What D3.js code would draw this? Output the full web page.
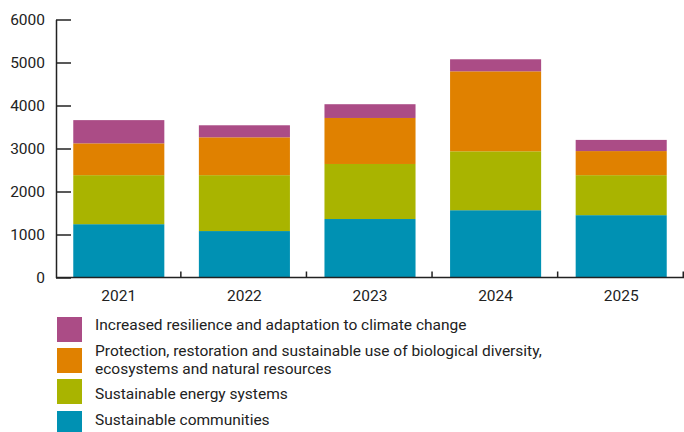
<!DOCTYPE html>
<html>
<head>
<meta charset="utf-8">
<script src="https://cdn.jsdelivr.net/npm/d3@7"></script>
<style>
  body { margin: 0; background: #fff; }
  svg text { font-family: Roboto, "Noto Sans", sans-serif; fill: #222; }
</style>
</head>
<body>
<div id="chart"></div>
<script>
// data
const years = ["2021", "2022", "2023", "2024", "2025"];
const communities = [1240, 1080, 1360, 1565, 1450];
const energy = [1140, 1300, 1280, 1370, 930];
const biodiversity = [740, 880, 1070, 1860, 560];
const resilience = [540, 280, 320, 280, 260];
const yTicks = [0, 1000, 2000, 3000, 4000, 5000, 6000];

const seriesKeys = ["communities", "energy", "biodiversity", "resilience"];
const colors = {
  communities: "#0091b3",
  energy: "#a9b400",
  biodiversity: "#e08100",
  resilience: "#ab4c86",
};
const legendItems = [
  { key: "resilience", lines: ["Increased resilience and adaptation to climate change"] },
  { key: "biodiversity", lines: ["Protection, restoration and sustainable use of biological diversity,", "ecosystems and natural resources"] },
  { key: "energy", lines: ["Sustainable energy systems"] },
  { key: "communities", lines: ["Sustainable communities"] },
];

const table = years.map((y, i) => ({
  year: y,
  communities: communities[i],
  energy: energy[i],
  biodiversity: biodiversity[i],
  resilience: resilience[i],
}));

const W = 684, H = 432;
const svg = d3.select("#chart").append("svg").attr("width", W).attr("height", H);

const x = d3.scaleBand().domain(years).range([56, 684]).paddingInner(0.275).paddingOuter(0.1375);
const y = d3.scaleLinear().domain([0, 6000]).range([277.5, 19.5]);

const stacked = d3.stack().keys(seriesKeys)(table);

// bars
svg.append("g").selectAll("g")
  .data(stacked)
  .join("g")
  .attr("fill", (d) => colors[d.key])
  .selectAll("rect")
  .data((d) => d)
  .join("rect")
  .attr("x", (d) => x(d.data.year))
  .attr("width", x.bandwidth())
  .attr("y", (d) => y(d[1]))
  .attr("height", (d) => y(d[0]) - y(d[1]));

// y axis, ticks pointing inward
const yAxis = svg.append("g")
  .attr("transform", "translate(56,0)")
  .call(d3.axisRight(y).tickValues(yTicks).tickSize(15).tickSizeOuter(0).tickFormat(d3.format("d")));
yAxis.select(".domain").attr("stroke", "#222").attr("stroke-width", 1.5);
yAxis.selectAll(".tick line").attr("stroke", "#222").attr("stroke-width", 1.5);
yAxis.selectAll(".tick text")
  .attr("x", -11)
  .attr("text-anchor", "end")
  .attr("font-size", 15.5);

// x axis
const step = x.step();
const xAxis = svg.append("g").attr("transform", `translate(0,${y(0)})`);
xAxis.append("line")
  .attr("x1", 56).attr("x2", 684)
  .attr("stroke", "#222").attr("stroke-width", 1.5);
xAxis.selectAll("line.sep")
  .data(years)
  .join("line")
  .attr("class", "sep")
  .attr("x1", (d) => x(d) - x.paddingOuter() * step + step - 0.75)
  .attr("x2", (d) => x(d) - x.paddingOuter() * step + step - 0.75)
  .attr("y1", 0).attr("y2", -6)
  .attr("stroke", "#222").attr("stroke-width", 1.5);
xAxis.selectAll("text")
  .data(years)
  .join("text")
  .attr("x", (d) => x(d) + x.bandwidth() / 2)
  .attr("y", 23)
  .attr("text-anchor", "middle")
  .attr("font-size", 15.5)
  .text((d) => d);

// legend
const boxTops = [317, 348, 379, 411];
const firstBaselines = [330, 355.5, 399, 425];
const legend = svg.append("g").attr("transform", "translate(57,0)");
legendItems.forEach((item, i) => {
  legend.append("rect")
    .attr("y", boxTops[i])
    .attr("width", 25).attr("height", 25)
    .attr("fill", colors[item.key]);
  item.lines.forEach((ln, j) => {
    legend.append("text")
      .attr("x", 38)
      .attr("y", firstBaselines[i] + j * 18.5)
      .attr("font-size", 15.5)
      .text(ln);
  });
});
</script>
</body>
</html>
